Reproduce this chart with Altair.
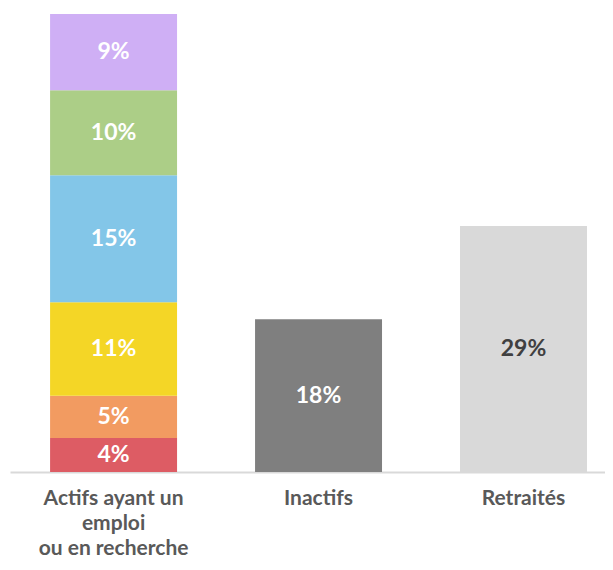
import altair as alt
import pandas as pd

categories = ["Actifs ayant un|emploi|ou en recherche", "Inactifs", "Retraités"]
# stacked segments for the first category (bottom to top)
actifs_values = [4, 5, 11, 15, 10, 9]
actifs_colors = ["#dd5c64", "#f29b61", "#f4d626", "#83c6e8", "#acce87", "#cfaff5"]
other_values = [18, 29]
other_colors = ["#7f7f7f", "#d9d9d9"]
other_text_colors = ["#ffffff", "#404040"]

rows = []
for i, (v, c) in enumerate(zip(actifs_values, actifs_colors)):
    rows.append({"cat": categories[0], "seg": f"a{i}", "order": i, "value": v,
                 "color": c, "tcolor": "#ffffff", "label": f"{v}%"})
for j, (v, c, tc) in enumerate(zip(other_values, other_colors, other_text_colors)):
    rows.append({"cat": categories[j + 1], "seg": f"o{j}", "order": 0, "value": v,
                 "color": c, "tcolor": tc, "label": f"{v}%"})
df = pd.DataFrame(rows)

seg_domain = list(df["seg"])
seg_range = list(df["color"])

FONT = "Lato"

x = alt.X("cat:N", sort=categories, title=None,
          scale=alt.Scale(paddingInner=0.3805, paddingOuter=0.1417, align=0.69),
          axis=alt.Axis(labelAngle=0, labelExpr="split(datum.label, '|')",
                        labelFont=FONT, labelFontSize=21, labelFontWeight="bold",
                        labelColor="#595959", labelLineHeight=25, labelPadding=15,
                        ticks=False, domainColor="#d9d9d9", domainWidth=2,
                        labelLimit=300))

base = alt.Chart(df).transform_stack(
    stack="value", groupby=["cat"], as_=["y0", "y1"],
    sort=[alt.SortField("order", order="ascending")]
).transform_calculate(mid="(datum.y0 + datum.y1) / 2")

bars = base.mark_bar().encode(
    x=x,
    y=alt.Y("y0:Q", scale=alt.Scale(domain=[0, 54], nice=False, zero=True), axis=None),
    y2="y1:Q",
    color=alt.Color("seg:N", scale=alt.Scale(domain=seg_domain, range=seg_range), legend=None),
)

texts = base.mark_text(font=FONT, fontSize=23, fontWeight="bold", baseline="middle").encode(
    x=alt.X("cat:N", sort=categories),
    y=alt.Y("mid:Q"),
    text="label:N",
    color=alt.Color("tcolor:N", scale=None),
)

chart = alt.layer(bars, texts).properties(
    width=595, height=458,
    autosize=alt.AutoSizeParams(type="none"),
    padding={"left": 2, "top": 6, "right": 0, "bottom": 90},
).configure_view(stroke=None)

chart.save("out.html", embed_options={"renderer": "svg", "actions": False})
